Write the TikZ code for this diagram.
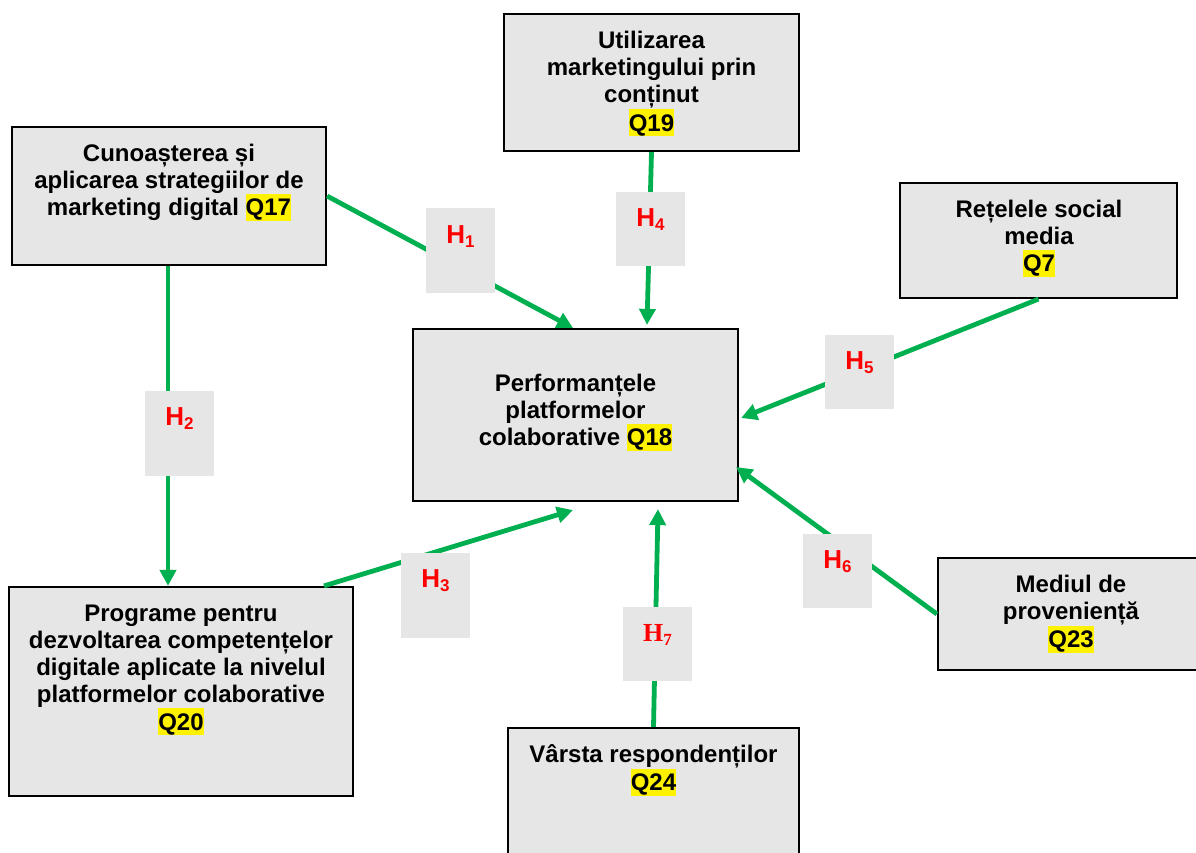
\documentclass[tikz,border=0pt]{standalone}
\usepackage{fontspec}
\setmainfont{Liberation Sans}
\newfontfamily\timesf{Liberation Serif}
\usetikzlibrary{arrows.meta,calc}
\definecolor{boxgray}{RGB}{230,230,230}
\definecolor{arrgreen}{RGB}{0,176,80}
\newcommand{\hlq}[1]{{\setlength{\fboxsep}{0pt}\colorbox{yellow}{\rule[-5pt]{0pt}{27pt}#1}}}
\newcommand{\hsub}[1]{{\fontsize{17}{17}\selectfont\raisebox{-4pt}{#1}}}
\newcommand{\fst}{\setlength{\lineskiplimit}{-100pt}\rule{0pt}{20pt}}
\begin{document}
\begin{tikzpicture}[x=1pt,y=-1pt,
  box/.style={draw=black, line width=2.2pt, fill=boxgray, inner sep=0pt},
  txt/.style={align=center, inner sep=0pt, anchor=north,
    font=\bfseries\fontsize{24}{27.2}\selectfont},
  hbox/.style={fill=boxgray, inner sep=0pt, minimum width=69},
  htxt/.style={text=red, inner sep=0pt, anchor=base,
    font=\bfseries\fontsize{26}{26}\selectfont},
  arr/.style={draw=arrgreen, line width=4.8pt, -{Triangle[length=16pt,width=16pt]}}]
\useasboundingbox (0,0) rectangle (1196,852);

% main boxes
\node[box, minimum width=314, minimum height=138] (q17) at (169,196) {};
\node[box, minimum width=295, minimum height=137] (q19) at (651.5,82.5) {};
\node[box, minimum width=277, minimum height=115] (q7) at (1038.5,240.5) {};
\node[box, minimum width=325, minimum height=172] (c) at (575.5,415) {};
\node[box, minimum width=266, minimum height=112] (q23) at (1071,614) {};
\node[box, minimum width=291, minimum height=142] (q24) at (653.5,799) {};
\node[box, minimum width=344, minimum height=209] (q20) at (181,691.5) {};

% texts
\node[txt] (t17) at (169,141) {\fst Cunoașterea și\\aplicarea strategiilor de\\marketing digital \hlq{Q17}};
\node[txt] (t19) at (651.5,28) {\fst Utilizarea\\marketingului prin\\conținut\\\hlq{Q19}};
\node[txt] (t7) at (1039,197) {\fst Rețelele social\\media\\\hlq{Q7}};
\node[txt] (t18) at (575.5,371) {\fst Performanțele\\platformelor\\colaborative \hlq{Q18}};
\node[txt] (t23) at (1071,572) {\fst Mediul de\\proveniență\\\hlq{Q23}};
\node[txt] (t24) at (653.5,742) {\fst Vârsta respondenților\\\hlq{Q24}};
\node[txt] (t20) at (181,601) {\fst Programe pentru\\dezvoltarea competențelor\\digitale aplicate la nivelul\\platformelor colaborative\\\hlq{Q20}};

% anchor points
\coordinate (e1) at ([xshift=-2.5pt]c.north);
\coordinate (e2) at ([xshift=-13pt]q20.north);
\coordinate (s2) at ([xshift=-1pt]q17.south);
\coordinate (s3) at ([xshift=143pt]q20.north);
\coordinate (e3) at ([xshift=-2.5pt,yshift=-8pt]c.south);
\coordinate (e4) at ([xshift=71.5pt,yshift=3pt]c.north);
\coordinate (e5) at ([xshift=2pt,yshift=-3pt]c.east);
\coordinate (e6) at ([xshift=-3pt,yshift=-52pt]c.east);
\coordinate (e7) at ([xshift=82.5pt,yshift=-7pt]c.south);

% arrows
\draw[arr] (q17.east) -- (e1);
\draw[arr] (s2) -- (e2);
\draw[arr] (s3) -- (e3);
\draw[arr] (q19.south) -- (e4);
\draw[arr] (q7.south) -- (e5);
\draw[arr] (q23.west) -- (e6);
\draw[arr] (q24.north) -- (e7);

% hypothesis labels
\node[hbox, minimum height=85] (h1) at (460.5,250.5) {};
\node[hbox, minimum height=85] (h2) at (179.5,433.5) {};
\node[hbox, minimum height=85] (h3) at (435.5,595.5) {};
\node[hbox, minimum height=74] (h4) at (650.5,229) {};
\node[hbox, minimum height=74] (h5) at (859.5,372) {};
\node[hbox, minimum height=74] (h6) at (837.5,571) {};
\node[hbox, minimum height=74] (h7) at (657.5,644) {};

\node[htxt] (l1) at ([yshift=-36pt]h1.north) {H\hsub{1}};
\node[htxt] (l2) at ([yshift=-35pt]h2.north) {H\hsub{2}};
\node[htxt] (l3) at ([yshift=-35pt]h3.north) {H\hsub{3}};
\node[htxt] (l4) at ([yshift=-35pt]h4.north) {H\hsub{4}};
\node[htxt] (l5) at ([yshift=-35pt]h5.north) {H\hsub{5}};
\node[htxt] (l6) at ([yshift=-35pt]h6.north) {H\hsub{6}};
\node[htxt, font=\timesf\bfseries\fontsize{26}{26}\selectfont] (l7) at ([yshift=-35pt]h7.north) {H\hsub{7}};
\end{tikzpicture}
\end{document}
